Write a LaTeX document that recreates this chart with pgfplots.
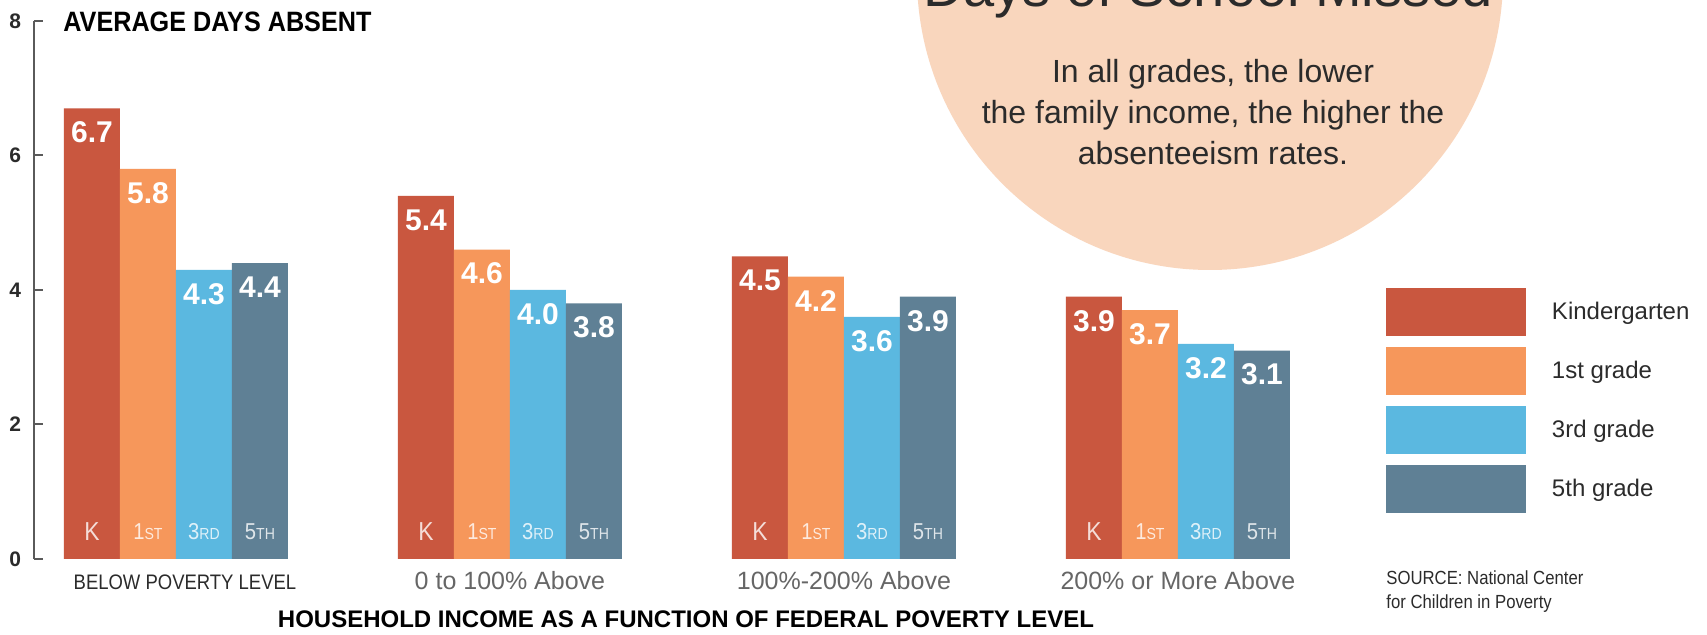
\documentclass[border=0pt]{standalone}
\usepackage{fontspec}
\setmainfont{Liberation Sans}
\newfontfamily\cond[FakeStretch=0.88]{Liberation Sans}
\newfontfamily\condb[FakeStretch=0.9]{Liberation Sans}
\usepackage{pgfplots}
\pgfplotsset{compat=1.18}
\definecolor{ck}{HTML}{C9573F}
\definecolor{c1}{HTML}{F6975B}
\definecolor{c3}{HTML}{5BB8E0}
\definecolor{c5}{HTML}{5F8095}
\definecolor{peach}{HTML}{F9D6BD}
\definecolor{txt}{HTML}{2B2B2B}
\definecolor{axgray}{HTML}{5A5A5A}
\definecolor{catgray}{HTML}{666666}

\pgfplotsset{
  valnode/.style={
    nodes near coords={\pgfmathprintnumber[fixed,fixed zerofill,precision=1,assume math mode=true]{\pgfplotspointmeta}},
    every node near coord/.append style={anchor=center, yshift=-12pt, text=white,
      font=\bfseries\fontsize{15pt}{15pt}\selectfont}},
}
\tikzset{
  grade/.style={anchor=center, yshift=13.5pt, text=white, text opacity=0.8, inner sep=0pt,
      font=\cond\fontsize{11.5pt}{11.5pt}\selectfont},
}
\newcommand{\gK}{{\fontsize{13pt}{13pt}\selectfont K}}
\newcommand{\gA}{1{\fontsize{8pt}{8pt}\selectfont ST}}
\newcommand{\gB}{3{\fontsize{8pt}{8pt}\selectfont RD}}
\newcommand{\gC}{5{\fontsize{8pt}{8pt}\selectfont TH}}

\begin{document}
\begin{tikzpicture}
\path[use as bounding box] (0,0) rectangle (853.5pt,317.5pt);
\clip (0,0) rectangle (853.5pt,317.5pt);
\fill[white] (0,0) rectangle (853.5pt,317.5pt);
\begin{scope}[x=0.5pt,y=-0.5pt,shift={(0pt,317.5pt)}]
  \fill[peach] (1210,-23) circle[radius=293];
  \node[anchor=base, text=txt, inner sep=0pt, font=\fontsize{28pt}{30pt}\selectfont] at (1208,7) {Days of School Missed};
  \node[anchor=base, text=txt, inner sep=0pt, font=\fontsize{16pt}{18pt}\selectfont] at (1213,83) {In all grades, the lower};
  \node[anchor=base, text=txt, inner sep=0pt, font=\fontsize{16pt}{18pt}\selectfont] at (1213,124) {the family income, the higher the};
  \node[anchor=base, text=txt, inner sep=0pt, font=\fontsize{16pt}{18pt}\selectfont] at (1213,165) {absenteeism rates.};
  \node[anchor=base west, text=black, inner sep=0pt, font=\condb\bfseries\fontsize{14pt}{16pt}\selectfont] at (63,32) {AVERAGE DAYS ABSENT};
  \node[anchor=base, text=black, inner sep=0pt, font=\bfseries\fontsize{12pt}{14pt}\selectfont] at (686,628) {HOUSEHOLD INCOME AS A FUNCTION OF FEDERAL POVERTY LEVEL};
  \node[anchor=base west, text=txt, inner sep=0pt, font=\cond\fontsize{9.5pt}{12pt}\selectfont] at (1386,585) {SOURCE: National Center};
  \node[anchor=base west, text=txt, inner sep=0pt, font=\cond\fontsize{9.5pt}{12pt}\selectfont] at (1386,609) {for Children in Poverty};
\end{scope}

\begin{axis}[
  at={(17pt,38pt)}, anchor=south west,
  scale only axis, width=647.125pt, height=269pt,
  xmin=-0.425, xmax=3.45, ymin=0, ymax=8,
  ybar=0pt, bar width=28pt,
  axis y line*=left, axis x line*=bottom,
  x axis line style={draw=none},
  y axis line style={draw=axgray, line width=1pt},
  ytick={0,2,4,6,8}, tick align=inside,
  major tick length=4.5pt,
  ytick style={draw=axgray, line width=1pt},
  yticklabel style={text=txt, font=\bfseries\fontsize{10.5pt}{12pt}\selectfont, xshift=-3pt},
  /pgf/number format/assume math mode=true,
  xtick={0,1,2,3}, xtick style={draw=none},
  xticklabels={{\hspace*{9pt}\color{txt}\cond\fontsize{10.5pt}{12pt}\selectfont BELOW POVERTY LEVEL},
    {0 to 100\% Above},{100\%-200\% Above},{200\% or More Above}},
  xticklabel style={anchor=base, yshift=-15.5pt, text=catgray, font=\fontsize{12.5pt}{14pt}\selectfont},
  legend style={at={(1.0446,0.5037)}, anchor=north west, draw=none, fill=none,
    inner sep=0pt, outer sep=0pt, row sep=5.5pt, text=txt,
    font=\fontsize{12pt}{14pt}\selectfont,
    /tikz/every odd column/.append style={column sep=11pt}},
  legend cell align=left,
  legend image code/.code={\fill[#1] (0pt,-12pt) rectangle (70pt,12pt);},
]
\addplot[fill=ck, draw=none, valnode] coordinates {(0,6.7) (1,5.4) (2,4.5) (3,3.9)};
\addplot[fill=c1, draw=none, valnode] coordinates {(0,5.8) (1,4.6) (2,4.2) (3,3.7)};
\addplot[fill=c3, draw=none, valnode] coordinates {(0,4.3) (1,4.0) (2,3.6) (3,3.2)};
\addplot[fill=c5, draw=none, valnode] coordinates {(0,4.4) (1,3.8) (2,3.9) (3,3.1)};
\legend{Kindergarten,1st grade,3rd grade,5th grade}
% grade labels at the foot of each bar
\node[grade] at (axis cs:-0.2515,0) {\gK};
\node[grade] at (axis cs:-0.0838,0) {\gA};
\node[grade] at (axis cs:0.0838,0) {\gB};
\node[grade] at (axis cs:0.2515,0) {\gC};
\node[grade] at (axis cs:0.7485,0) {\gK};
\node[grade] at (axis cs:0.9162,0) {\gA};
\node[grade] at (axis cs:1.0838,0) {\gB};
\node[grade] at (axis cs:1.2515,0) {\gC};
\node[grade] at (axis cs:1.7485,0) {\gK};
\node[grade] at (axis cs:1.9162,0) {\gA};
\node[grade] at (axis cs:2.0838,0) {\gB};
\node[grade] at (axis cs:2.2515,0) {\gC};
\node[grade] at (axis cs:2.7485,0) {\gK};
\node[grade] at (axis cs:2.9162,0) {\gA};
\node[grade] at (axis cs:3.0838,0) {\gB};
\node[grade] at (axis cs:3.2515,0) {\gC};
\end{axis}
\end{tikzpicture}
\end{document}
